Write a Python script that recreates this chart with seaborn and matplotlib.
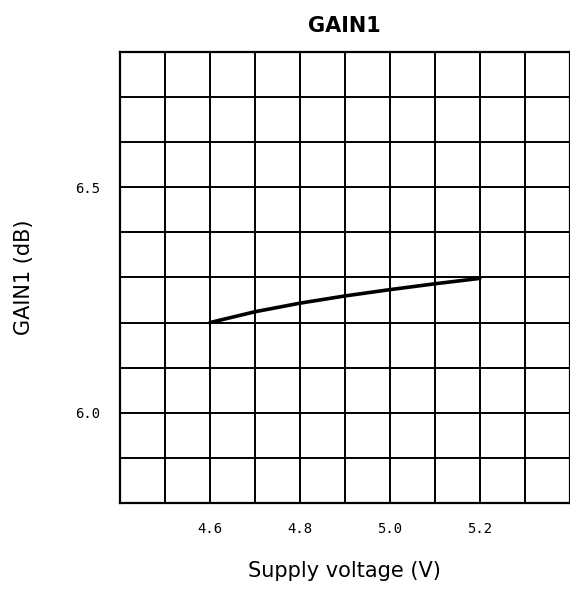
import numpy as np
import pandas as pd
import matplotlib
matplotlib.use("Agg")
import matplotlib.pyplot as plt
import seaborn as sns

# data
voltage = [4.6, 4.7, 4.8, 4.9, 5.0, 5.1, 5.2]
gain1 = [6.200, 6.224, 6.243, 6.259, 6.273, 6.286, 6.298]

x_grid = [4.4, 4.5, 4.6, 4.7, 4.8, 4.9, 5.0, 5.1, 5.2, 5.3, 5.4]
x_labels = ["", "", "4.6", "", "4.8", "", "5.0", "", "5.2", "", ""]
y_grid = [5.8, 5.9, 6.0, 6.1, 6.2, 6.3, 6.4, 6.5, 6.6, 6.7, 6.8]
y_labels = ["", "", "6.0", "", "", "", "", "6.5", "", "", ""]

df = pd.DataFrame({"voltage": voltage, "gain": gain1})

sns.set_style("white")
fig = plt.figure(figsize=(5.7, 5.92), dpi=100)
ax = fig.add_axes([0.2105, 0.1503, 0.789, 0.762])

sns.lineplot(data=df, x="voltage", y="gain", color="black", linewidth=2.6, ax=ax)

ax.set_xlim(4.4, 5.4)
ax.set_ylim(5.8, 6.8)
ax.set_xticks(x_grid)
ax.set_xticklabels(x_labels, family="DejaVu Sans Mono", fontsize=10, color="black")
ax.set_yticks(y_grid)
ax.set_yticklabels(y_labels, family="DejaVu Sans Mono", fontsize=10, color="black")
ax.tick_params(length=0, pad=14)
ax.grid(True, color="black", linewidth=1.4)
ax.set_axisbelow(True)
for s in ax.spines.values():
    s.set_color("black")
    s.set_linewidth(1.6)

ax.set_title("GAIN1", fontsize=15, fontweight="bold", pad=14, color="black")
ax.set_xlabel("Supply voltage (V)", fontsize=15, labelpad=18, color="black")
ax.set_ylabel("GAIN1 (dB)", fontsize=15, labelpad=30, color="black")

fig.savefig("out.png", dpi=100)
